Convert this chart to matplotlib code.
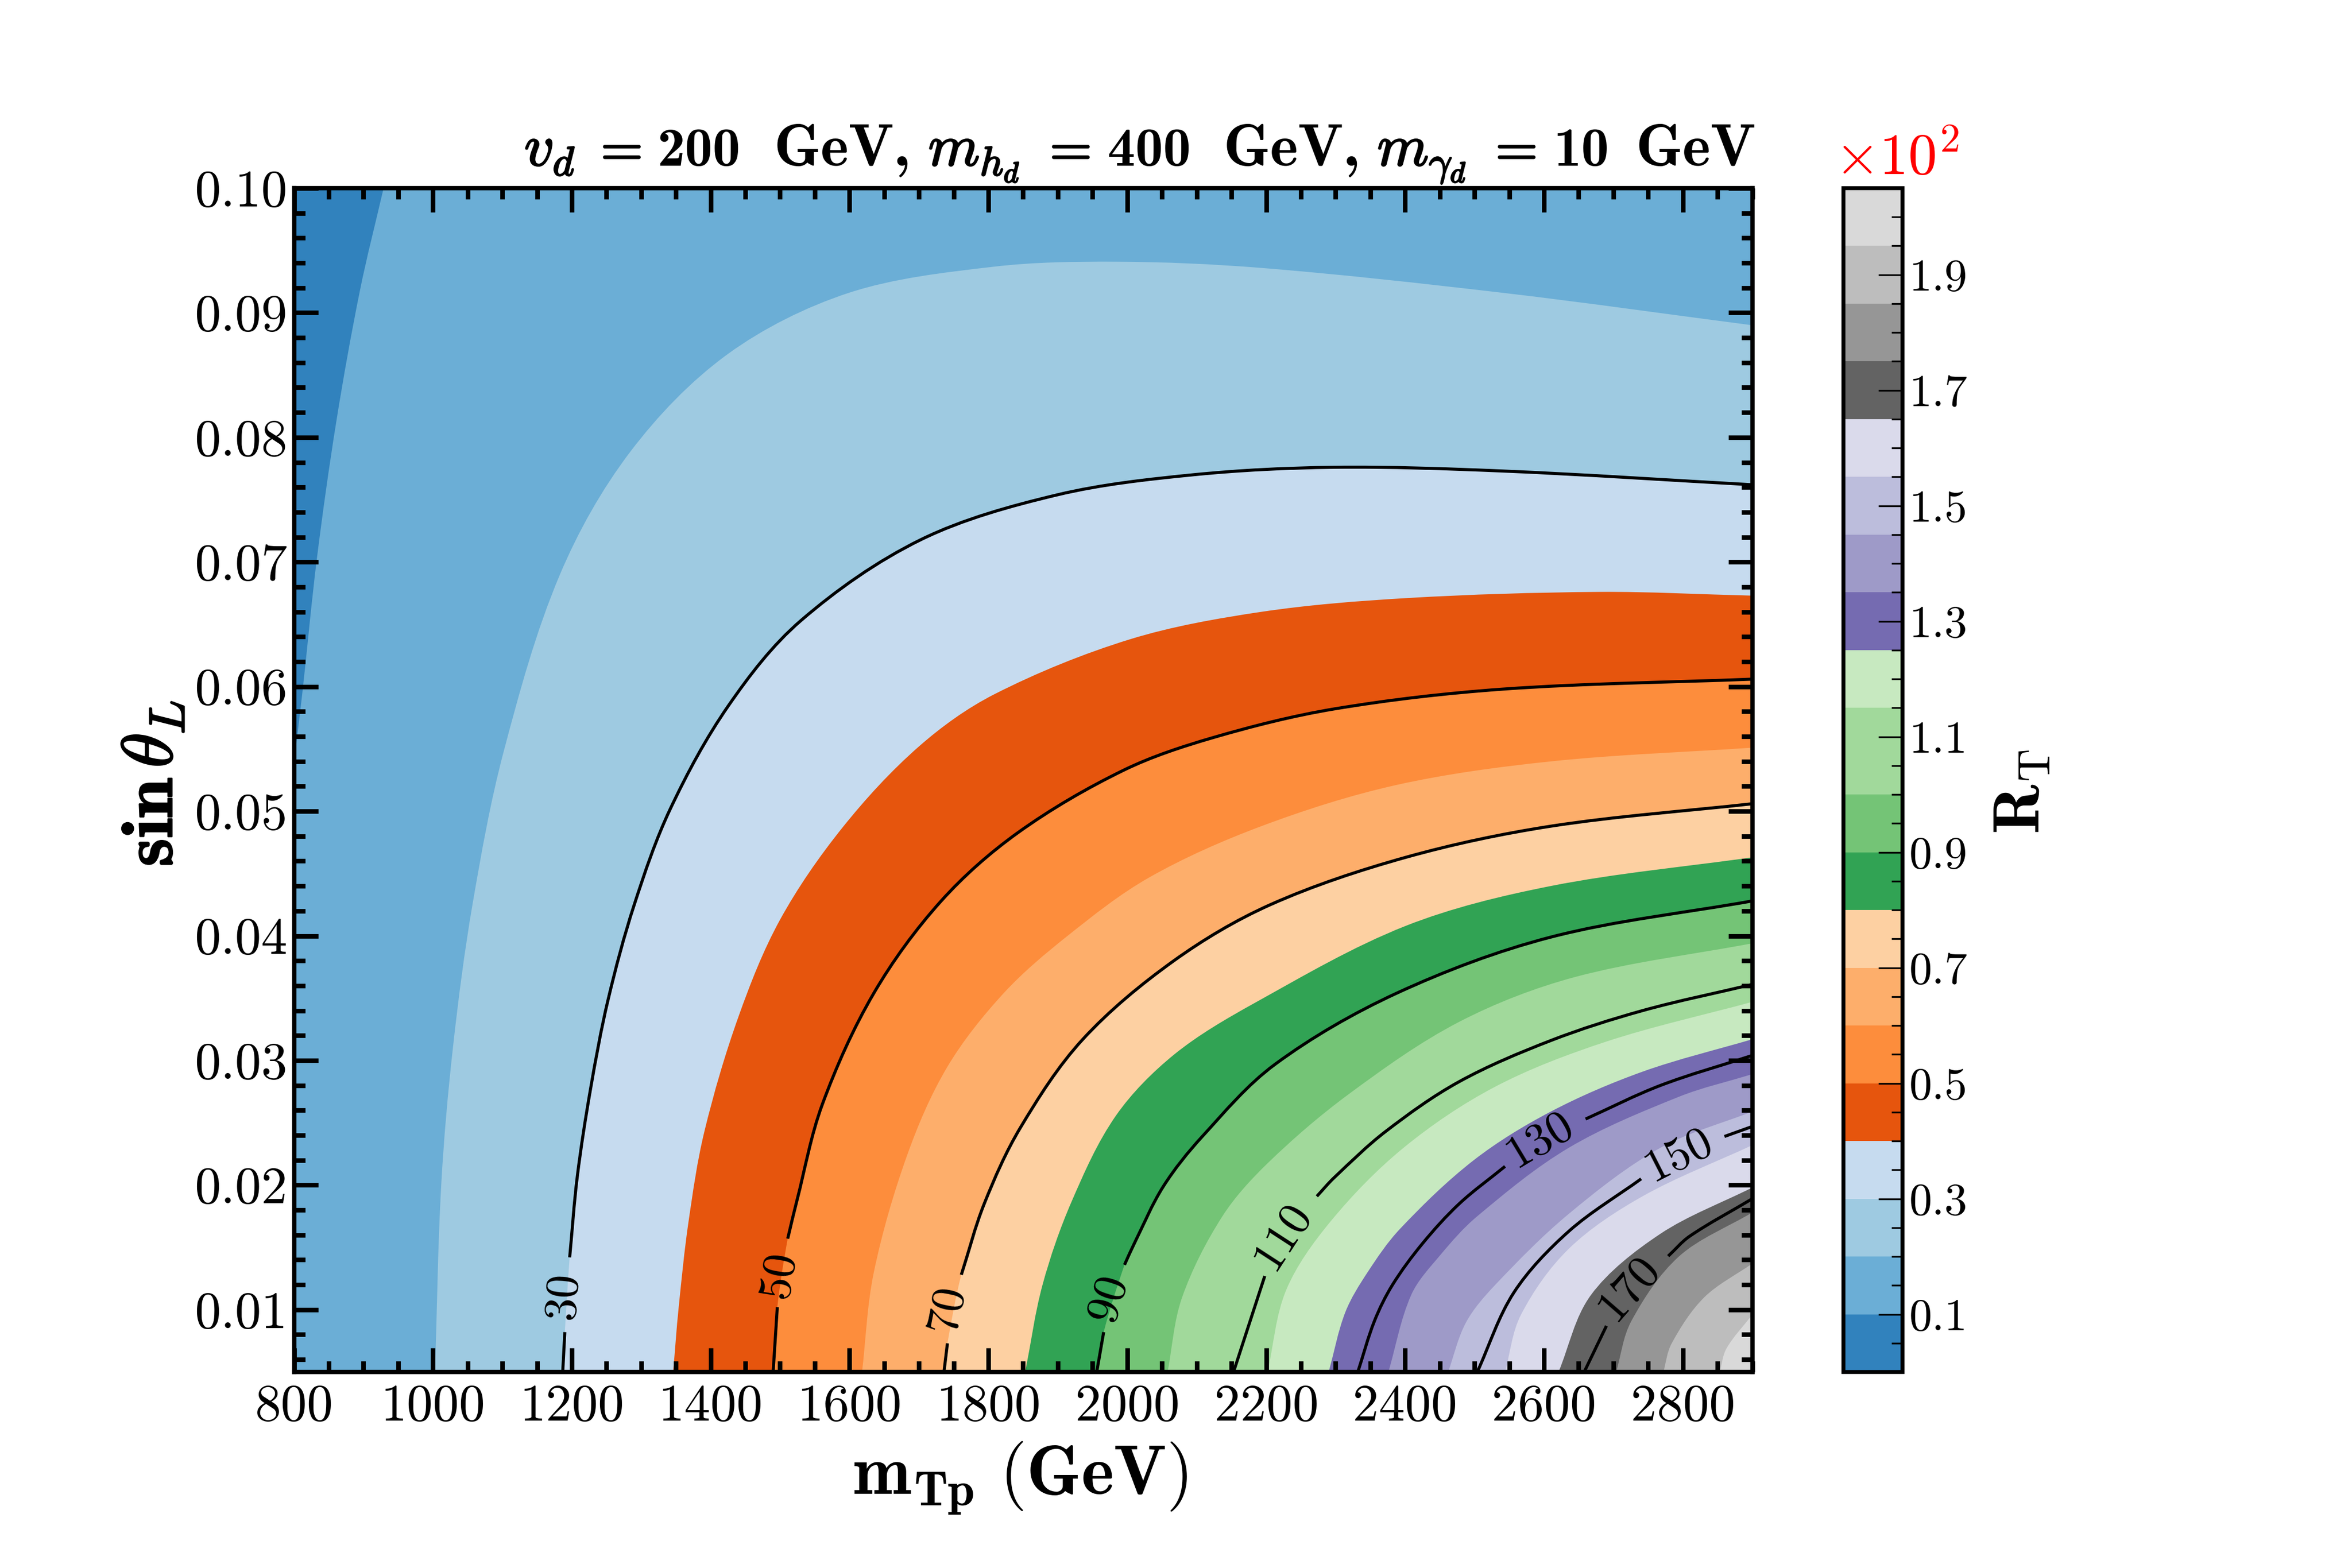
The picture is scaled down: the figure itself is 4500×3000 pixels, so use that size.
# -*- coding: utf-8 -*-
import numpy as np
import matplotlib
matplotlib.use('Agg')
import matplotlib.pyplot as plt
import matplotlib.patheffects as pe
from matplotlib.cm import ScalarMappable
from matplotlib.colors import BoundaryNorm, ListedColormap
from matplotlib.patches import PathPatch
from matplotlib.path import Path
from matplotlib.ticker import MultipleLocator, FormatStrFormatter

plt.rcParams['font.family'] = ['cmr10', 'DejaVu Serif']
plt.rcParams['mathtext.fontset'] = 'cm'
plt.rcParams['axes.unicode_minus'] = False
plt.rcParams['axes.formatter.use_mathtext'] = True

x_min, x_max = 800, 2900
y_min, y_max = 0.005, 0.10

# band edges of the colour scale, in units of R
levels = [0, 10, 20, 30, 40, 50, 60, 70, 80, 90, 100, 115, 125, 135, 145, 155, 165, 175, 185, 195, 205]
colors = ['#3182bd', '#6baed6', '#9ecae1', '#c6dbef', '#e6550d', '#fd8d3c', '#fdae6b', '#fdd0a2',
          '#31a354', '#74c476', '#a1d99b', '#c7e9c0', '#756bb1', '#9e9ac8', '#bcbddc', '#dadaeb',
          '#636363', '#969696', '#bdbdbd', '#d9d9d9']
cbar_ticks = [0.1, 0.3, 0.5, 0.7, 0.9, 1.1, 1.3, 1.5, 1.7, 1.9]

# iso-R curves, (mTp, sin theta)
edge_10 = [(929, .100), (895, .0918), (861, .0813), (833, .0703), (812, .0595), (800, .0539)]
edge_20 = [(2900, .0890), (2541, .0916), (2193, .0936), (1984, .0941), (1808, .0937), (1599, .0916),
           (1425, .0867), (1285, .0789), (1183, .0690), (1102, .0548), (1057, .0425), (1029, .0311),
           (1012, .0200), (1003, .005)]
edge_40 = [(2900, .0673), (2680, .0676), (2401, .0671), (2193, .0660), (2004, .0638), (1809, .0594),
           (1700, .0552), (1590, .0487), (1500, .0413), (1440, .0335), (1391, .0243), (1368, .0170),
           (1354, .0102), (1346, .005)]
edge_60 = [(2900, .0551), (2610, .0540), (2387, .0521), (2193, .0488), (2032, .0447), (1914, .0400),
           (1822, .0354), (1741, .0295), (1683, .0224), (1635, .0130), (1618, .005)]
edge_80 = [(2900, .0463), (2610, .0440), (2401, .0408), (2183, .0346), (2068, .0305), (1984, .0256),
           (1920, .0187), (1878, .0120), (1853, .005)]
edge_100 = [(2900, .0394), (2645, .0367), (2478, .0331), (2319, .0273), (2203, .0218), (2137, .0175),
            (2079, .0110), (2058, .005)]
edge_115 = [(2900, .0347), (2689, .0315), (2530, .0279), (2398, .0230), (2293, .0171), (2229, .0116),
            (2202, .005)]
edge_125 = [(2900, .0317), (2742, .0291), (2610, .0259), (2499, .0220), (2393, .0165), (2346, .0130),
            (2314, .0098), (2290, .005)]
edge_135 = [(2900, .0289), (2795, .0271), (2636, .0230), (2504, .0175), (2451, .0144), (2409, .0112),
            (2376, .005)]
edge_145 = [(2900, .0259), (2768, .0230), (2636, .0177), (2530, .0120), (2488, .0090), (2462, .005)]
edge_155 = [(2900, .0232), (2742, .0191), (2636, .0149), (2567, .0096), (2544, .005)]
edge_165 = [(2900, .0198), (2768, .0161), (2668, .0112), (2621, .005)]
edge_175 = [(2900, .0178), (2795, .0143), (2726, .0091), (2704, .005)]
edge_185 = [(2900, .0137), (2831, .0110), (2784, .0073), (2772, .005)]
edge_195 = [(2900, .0096), (2863, .0069), (2853, .005)]

# contour lines, a nan pair is the gap left for the inline label
line_30 = [(2900, .0762), (2541, .0773), (2297, .0776), (2095, .0770), (1900, .0754), (1703, .0718),
           (1530, .0653), (1426, .0585), (1342, .0502), (1290, .0425), (1252, .0348), (1227, .0277),
           (1208, .0207), (1197, .0142), (np.nan, np.nan), (1190, .0082), (1187, .005)]
line_50 = [(2900, .0606), (2541, .0598), (2297, .0582), (2123, .0559), (1995, .0533), (1843, .0483),
           (1732, .0428), (1635, .0354), (1561, .0265), (1524, .0187), (1511, .0157), (np.nan, np.nan),
           (1496, .0102), (1490, .005)]
line_70 = [(2900, .0506), (2610, .0488), (2401, .0463), (2206, .0425), (2067, .0380), (1936, .0317),
           (1846, .0246), (1794, .0185), (1761, .0128), (np.nan, np.nan), (1741, .0073), (1736, .005)]
line_90 = [(2900, .0428), (2610, .0399), (2388, .0354), (2213, .0297), (2108, .0239), (2052, .0199),
           (2010, .0153), (1996, .0136), (np.nan, np.nan), (1966, .0082), (1956, .005)]
line_110 = [(2900, .0361), (2742, .0340), (2610, .0316), (2478, .0283), (2372, .0243), (2298, .0206),
            (2273, .0191), (np.nan, np.nan), (2198, .0127), (2153, .005)]
line_130 = [(2900, .0304), (2768, .0280), (2660, .0253), (np.nan, np.nan), (2544, .0215), (2478, .0185),
            (2425, .0153), (2382, .0120), (2356, .0091), (2332, .005)]
line_150 = [(2900, .0247), (2860, .0239), (np.nan, np.nan), (2740, .0205), (2636, .0163), (2557, .0114),
            (2504, .005)]
line_170 = [(2900, .0189), (2810, .0159), (2779, .0143), (np.nan, np.nan), (2690, .0087), (2658, .005)]

label_text = ['30', '50', '70', '90', '110', '130', '150', '170']
label_x = [1188, 1498, 1741, 1973, 2224, 2594, 2794, 2723]
label_y = [.0111, .0128, .0101, .0109, .0159, .0236, .0224, .0117]
label_rot = [86, 81, 79, 73, 57, 31, 27, 49]

# title pieces and where each one starts, pixels from the left
title_text = ['$v_{d}$', '$=$', '200', 'GeV,', '$m_{h_{d}}$', '$=$', '400', 'GeV,', '$m_{\\gamma_{d}}$', '$=$', '10', 'GeV']
title_left = [1003, 1131, 1258, 1481, 1776, 1990, 2119, 2341, 2635, 2843, 2973, 3130]


def smooth_path(curve):
    # bezier through the read points, x and y put on a common scale for the tangents
    pts = np.array(curve, dtype=float)
    scale = np.array([x_max - x_min, y_max - y_min])
    q = pts / scale
    seg = np.hypot(*np.diff(q, axis=0).T)
    tang = np.zeros_like(q)
    if len(pts) > 2:
        tang[1:-1] = (q[2:] - q[:-2]) / (seg[:-1] + seg[1:])[:, None]
    tang[0] = (q[1] - q[0]) / seg[0]
    tang[-1] = (q[-1] - q[-2]) / seg[-1]
    verts = [pts[0]]
    codes = [Path.MOVETO]
    for i in range(len(pts) - 1):
        verts.append((q[i] + tang[i] * seg[i] / 3) * scale)
        verts.append((q[i + 1] - tang[i + 1] * seg[i] / 3) * scale)
        verts.append(pts[i + 1])
        codes += [Path.CURVE4] * 3
    return verts, codes


def split(curve):
    parts = [[]]
    for p in curve:
        if np.isnan(p[0]):
            parts.append([])
        else:
            parts[-1].append(p)
    return parts


def solid(curve):
    return [p for p in curve if not np.isnan(p[0])]


edges = [edge_10, edge_20, solid(line_30), edge_40, solid(line_50), edge_60, solid(line_70), edge_80,
         solid(line_90), edge_100, edge_115, edge_125, edge_135, edge_145, edge_155, edge_165, edge_175,
         edge_185, edge_195]
lines = [line_30, line_50, line_70, line_90, line_110, line_130, line_150, line_170]

fig = plt.figure(figsize=(15, 10), dpi=300)
ax = fig.add_axes([0.125, 0.125, 0.62, 0.755])
cax = fig.add_axes([0.7838, 0.125, 0.0251, 0.755])

ax.set_facecolor(colors[0])
for i, curve in enumerate(edges):
    verts, codes = smooth_path(curve)
    if i == 0:
        # the first edge runs from the top to the left side
        corners = [(x_min, y_min), (x_max, y_min), (x_max, y_max)]
    else:
        corners = [(x_max, y_min)]
    verts = verts + corners + [verts[0]]
    codes = codes + [Path.LINETO] * len(corners) + [Path.CLOSEPOLY]
    ax.add_patch(PathPatch(Path(verts, codes), facecolor=colors[i + 1], edgecolor='none', lw=0,
                           zorder=1 + i * 0.01))

for curve in lines:
    for part in split(curve):
        verts, codes = smooth_path(part)
        ax.add_patch(PathPatch(Path(verts, codes), facecolor='none', edgecolor='k', lw=1.4, zorder=3))

for t, lx, ly, r in zip(label_text, label_x, label_y, label_rot):
    ax.text(lx, ly, t, fontsize=21.5, rotation=r, ha='center', va='center', rotation_mode='anchor', zorder=4)

ax.set_xlim(x_min, x_max)
ax.set_ylim(y_min, y_max)
ax.xaxis.set_major_locator(MultipleLocator(200))
ax.xaxis.set_minor_locator(MultipleLocator(50))
ax.yaxis.set_major_locator(MultipleLocator(0.01))
ax.yaxis.set_minor_locator(MultipleLocator(0.002))
ax.xaxis.set_major_formatter(FormatStrFormatter('%d'))
ax.yaxis.set_major_formatter(FormatStrFormatter('%.2f'))
ax.tick_params(which='both', direction='in', top=True, right=True, width=2.1, labelsize=24, zorder=5)
ax.tick_params(which='major', length=11)
ax.tick_params(which='minor', length=5)
ax.tick_params(axis='x', which='major', pad=5.5)
ax.tick_params(axis='y', which='major', pad=3)
ax.set_axisbelow(False)
for s in ax.spines.values():
    s.set_linewidth(2)
    s.set_zorder(6)

bold = [pe.withStroke(linewidth=0.7, foreground='k')]
ax.set_xlabel(r'$\mathbf{m}_{\mathbf{Tp}}\ \mathbf{(GeV)}$', fontsize=32, labelpad=4.5, x=0.498)
ax.set_ylabel(r'$\mathbf{sin}\,\theta_{L}$', fontsize=33, labelpad=3.8, y=0.497, path_effects=bold)

for t, left in zip(title_text, title_left):
    if t.startswith('$'):
        fig.text(left / 4500, 0.8943, t, fontsize=27 if t != '$=$' else 25, va='baseline', ha='left',
                 path_effects=bold)
    else:
        fig.text(left / 4500, 0.8943, t, fontsize=27.5 if t.startswith('G') else 25.5, va='baseline',
                 ha='left', family='cmb10')

norm = BoundaryNorm([v / 100 for v in levels], len(colors))
cb = fig.colorbar(ScalarMappable(norm=norm, cmap=ListedColormap(colors)), cax=cax,
                  spacing='proportional', ticks=cbar_ticks)
cb.outline.set_linewidth(1.8)
cax.yaxis.set_major_formatter(FormatStrFormatter('%.1f'))
cax.yaxis.set_minor_locator(MultipleLocator(0.05))
cax.tick_params(which='both', direction='in', width=0.8, labelsize=21, right=True)
cax.tick_params(which='major', length=11, pad=3)
cax.tick_params(which='minor', length=5)
cb.set_label(r'$\mathbf{R}_{\mathrm{T}}$', fontsize=30, labelpad=12, y=0.49)
cax.text(-0.15, 1.0115, r'$\times 10^{2}$', color='red', fontsize=26.5, transform=cax.transAxes,
         ha='left', va='baseline')

fig.savefig('out.png', dpi=300)
